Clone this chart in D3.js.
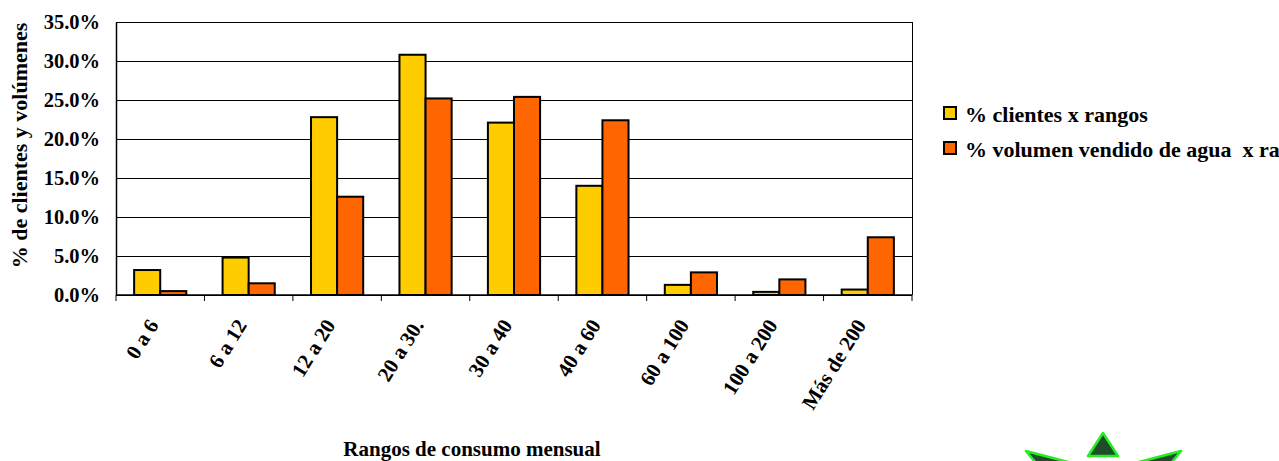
<!DOCTYPE html>
<html>
<head>
<meta charset="utf-8">
<script src="https://cdn.jsdelivr.net/npm/d3@7"></script>
<style>
  body { margin: 0; background: #fff; overflow: hidden; }
  text { font-family: "Liberation Serif", "Times New Roman", serif; font-weight: bold; }
</style>
</head>
<body>
<div id="chart"></div>
<script>
// data
var categories = ["0 a 6", "6 a 12", "12 a 20", "20 a 30.", "30 a 40", "40 a 60", "60 a 100", "100 a 200", "Más de 200"];
var clientes = [3.2, 4.8, 22.8, 30.8, 22.1, 14.0, 1.3, 0.4, 0.7];
var volumen = [0.5, 1.5, 12.6, 25.2, 25.4, 22.4, 2.9, 2.0, 7.4];
var seriesNames = ["% clientes x rangos", "% volumen vendido de agua  x rangos"];
var seriesColors = ["#FFCC00", "#FF6600"];
var yTicks = [0, 5, 10, 15, 20, 25, 30, 35];

var W = 1279, H = 461;
var margin = {top: 22, right: 367, bottom: 166, left: 116},
    width = W - margin.left - margin.right,
    height = H - margin.top - margin.bottom;

var svg = d3.select("#chart").append("svg")
    .attr("width", W)
    .attr("height", H)
    .style("overflow", "visible");

var g = svg.append("g")
    .attr("transform", "translate(" + margin.left + "," + margin.top + ")");

var x = d3.scaleBand()
    .domain(categories)
    .range([0, width])
    .paddingInner(0.41)
    .paddingOuter(0.205);

// full category slots, for ticks and labels
var x0 = d3.scaleBand()
    .domain(categories)
    .range([0, width]);

var y = d3.scaleLinear()
    .domain([0, 35])
    .range([height, 0]);

// gridlines
g.append("g")
  .selectAll("line")
  .data(yTicks)
  .enter().append("line")
    .attr("x1", 0)
    .attr("x2", width)
    .attr("y1", function(d) { return Math.round(y(d)) + 0.5; })
    .attr("y2", function(d) { return Math.round(y(d)) + 0.5; })
    .attr("stroke", "#000")
    .attr("stroke-width", 1);

// right frame
g.append("line")
    .attr("x1", width + 0.5).attr("x2", width + 0.5)
    .attr("y1", 0).attr("y2", height)
    .attr("stroke", "#000");

// bars
var bw = x.bandwidth() / 2;
var rows = categories.map(function(c, i) { return {cat: c, vals: [clientes[i], volumen[i]]}; });

var groups = g.selectAll(".cat")
    .data(rows)
    .enter().append("g")
    .attr("class", "cat")
    .attr("transform", function(d) { return "translate(" + x(d.cat) + ",0)"; });

groups.selectAll("rect")
    .data(function(d) { return d.vals; })
    .enter().append("rect")
    .attr("x", function(d, i) { return i * bw; })
    .attr("y", function(d) { return y(d); })
    .attr("width", bw)
    .attr("height", function(d) { return height - y(d); })
    .attr("fill", function(d, i) { return seriesColors[i]; })
    .attr("stroke", "#000")
    .attr("stroke-width", 2);

// y axis
var yAxis = d3.axisLeft(y)
    .tickValues(yTicks)
    .tickSize(0)
    .tickPadding(16)
    .tickFormat(function(d) { return d.toFixed(1) + "%"; });

var ya = g.append("g").call(yAxis);
ya.select(".domain").attr("stroke", "#000").attr("stroke-width", 1.5);
ya.selectAll("text")
    .style("font-family", "Liberation Serif")
    .style("font-weight", "bold")
    .style("font-size", "20.5px")
    .attr("fill", "#000");

// x axis: ticks at category boundaries
var xa = g.append("g")
    .attr("transform", "translate(0," + height + ")");
xa.append("line")
    .attr("x1", 0).attr("x2", width)
    .attr("y1", 0).attr("y2", 0)
    .attr("stroke", "#000").attr("stroke-width", 1.5);
xa.selectAll(".tk")
    .data(categories.concat(["end"]))
    .enter().append("line")
    .attr("class", "tk")
    .attr("x1", function(d, i) { return i < categories.length ? x0(d) : width; })
    .attr("x2", function(d, i) { return i < categories.length ? x0(d) : width; })
    .attr("y1", 0).attr("y2", 6)
    .attr("stroke", "#000");

xa.selectAll(".lbl")
    .data(categories)
    .enter().append("text")
    .attr("class", "lbl")
    .attr("transform", function(d) {
        return "translate(" + (x0(d) + x0.bandwidth() / 2 - 1) + ",30) rotate(-58)";
    })
    .attr("text-anchor", "end")
    .style("font-size", "21px")
    .text(function(d) { return d; });

// axis titles
svg.append("text")
    .attr("x", 472)
    .attr("y", 456)
    .attr("text-anchor", "middle")
    .style("font-size", "21px")
    .text("Rangos de consumo mensual");

svg.append("text")
    .attr("transform", "translate(27,145.5) rotate(-90)")
    .attr("text-anchor", "middle")
    .style("font-size", "22px")
    .text("% de clientes y volúmenes");

// legend (second entry runs past the right edge, as in the original)
var legend = svg.selectAll(".lg")
    .data(seriesNames)
    .enter().append("g")
    .attr("class", "lg")
    .attr("transform", function(d, i) { return "translate(944," + (107 + i * 35) + ")"; });
legend.append("rect")
    .attr("width", 12).attr("height", 12)
    .attr("fill", function(d, i) { return seriesColors[i]; })
    .attr("stroke", "#000")
    .attr("stroke-width", 2);
legend.append("text")
    .attr("x", 21)
    .attr("y", 15)
    .style("font-size", "22px")
    .style("white-space", "pre")
    .text(function(d) { return d; });

// green clip-art at the bottom edge
var deco = svg.append("g")
    .attr("fill", "#1f4d2a")
    .attr("stroke", "#22ee22")
    .attr("stroke-width", 2.5)
    .attr("stroke-linejoin", "round");
deco.append("path").attr("d", "M1103,433 L1088,456 L1118,456 Z");
deco.append("path").attr("d", "M1026,451 L1068,462 L1040,468 Z");
deco.append("path").attr("d", "M1181,451 L1139,462 L1167,468 Z");
</script>
</body>
</html>
